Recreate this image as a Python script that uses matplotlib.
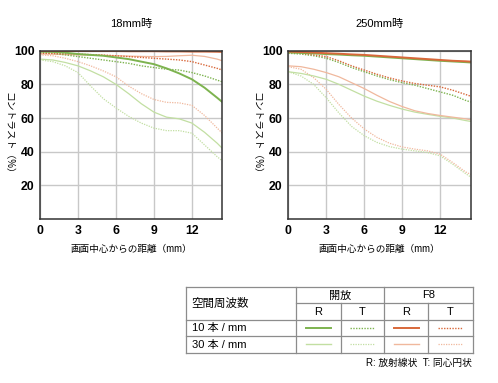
import matplotlib
matplotlib.use("Agg")
import matplotlib.pyplot as plt

plt.rcParams['font.family'] = ['Liberation Sans', 'Noto Sans CJK JP', 'DejaVu Sans']

# distance from image centre (mm)
x = [0, 1, 2, 3, 4, 5, 6, 7, 8, 9, 10, 11, 12, 13, 14, 14.4]

# 18mm
w18_open_10R = [99.5, 99.3, 98.8, 98, 97.5, 97, 96, 95, 93.5, 92, 89.5, 86.5, 83, 78, 72, 69.5]
w18_open_10T = [99, 98.5, 97.5, 96.5, 95.5, 94.5, 93.5, 92.5, 91, 90, 89, 88.5, 87, 85, 82.5, 81.5]
w18_open_30R = [95, 94.5, 93, 91, 88, 84.5, 80, 74.5, 68.5, 63.5, 60.5, 59.5, 57, 51.5, 45, 42]
w18_open_30T = [94.5, 93.5, 91, 87, 79, 71.5, 66, 61, 57, 54, 52.5, 52.5, 51, 44, 37, 34.5]
w18_f8_10R = [99.8, 99.8, 99.8, 99.8, 99.8, 99.8, 99.8, 99.7, 99.7, 99.7, 99.6, 99.6, 99.5, 99.5, 99.4, 99.3]
w18_f8_10T = [98.5, 98.4, 98.2, 98, 97.7, 97.4, 97, 96.5, 96, 95.5, 95, 94.5, 93.5, 91.5, 89.5, 88.5]
w18_f8_30R = [98, 97.9, 97.7, 97.5, 97.4, 97.2, 97, 96.8, 96.6, 96.5, 96.6, 97, 97.3, 96.6, 95, 94]
w18_f8_30T = [97.5, 97, 95.5, 93.5, 91, 88, 84.5, 79, 74.5, 71, 69.3, 69, 67.5, 61.5, 54, 51]

# 250mm
t250_open_10R = [99, 98.7, 98.4, 98, 97.7, 97.3, 97, 96.5, 96, 95.5, 95, 94.5, 94, 93.6, 93.2, 93]
t250_open_10T = [98.5, 98, 97, 95.5, 93, 90, 87.5, 85, 82.8, 81, 79.5, 77.5, 75.5, 73.5, 70.5, 69.5]
t250_open_30R = [87.5, 86.5, 85, 83, 80, 76.5, 73, 70, 67.5, 65.3, 63.5, 62.2, 61, 60, 58.5, 58]
t250_open_30T = [87.5, 85, 80, 72, 63, 55, 49.5, 45.5, 43, 41.5, 40.5, 39.5, 37.5, 32.5, 27, 25]
t250_f8_10R = [99.5, 99.2, 98.9, 98.5, 98.2, 97.8, 97.5, 97, 96.5, 96, 95.5, 95, 94.5, 94, 93.7, 93.5]
t250_f8_10T = [99, 98.5, 97.5, 96.5, 94, 91, 88.5, 86, 83.8, 82, 80.5, 79.5, 78.5, 76.5, 74, 73]
t250_f8_30R = [91, 90.5, 89, 87, 84.5, 81, 77.5, 73.5, 69.8, 66.8, 64.3, 62.7, 61.5, 60.5, 59.5, 59]
t250_f8_30T = [90.5, 89, 84, 77, 68, 60, 53.5, 48.5, 45, 42.8, 41.5, 40.5, 38.5, 33.5, 28, 26.5]

titles = ['18mm時', '250mm時']
xticks = [0, 3, 6, 9, 12]
yticks = [20, 40, 60, 80, 100]

green = '#7db34f'
orange = '#d8683a'
lgreen = '#c2dfa2'
lorange = '#f0b89d'
dot = (0, (1, 1))

W, H = 498, 383
fig = plt.figure(figsize=(W / 100, H / 100), dpi=100)

def px_axes(x0, y0, x1, y1):
    return fig.add_axes([x0 / W, 1 - y1 / H, (x1 - x0) / W, (y1 - y0) / H])

panels = [
    (40, (w18_open_10R, w18_open_10T, w18_open_30R, w18_open_30T,
          w18_f8_10R, w18_f8_10T, w18_f8_30R, w18_f8_30T)),
    (288.3, (t250_open_10R, t250_open_10T, t250_open_30R, t250_open_30T,
             t250_f8_10R, t250_f8_10T, t250_f8_30R, t250_f8_30T)),
]

for (left, series), title in zip(panels, titles):
    ax = px_axes(left, 50.7, left + 182.3, 219)
    o10R, o10T, o30R, o30T, f10R, f10T, f30R, f30T = series
    ax.plot(x, o30T, color=lgreen, lw=0.9, ls=dot)
    ax.plot(x, f30T, color=lorange, lw=0.9, ls=dot)
    ax.plot(x, o30R, color=lgreen, lw=0.9)
    ax.plot(x, f30R, color=lorange, lw=0.9)
    ax.plot(x, o10T, color=green, lw=1.0, ls=dot)
    ax.plot(x, f10T, color=orange, lw=1.0, ls=dot)
    ax.plot(x, o10R, color=green, lw=1.4)
    ax.plot(x, f10R, color=orange, lw=1.4)
    ax.set_xlim(0, 14.4)
    ax.set_ylim(0, 100)
    ax.set_xticks(xticks)
    ax.set_yticks(yticks)
    ax.grid(True, color='#c8c8c8', lw=1.0)
    ax.set_axisbelow(True)
    ax.tick_params(length=0, labelsize=8.8, pad=4)
    for lab in ax.get_xticklabels() + ax.get_yticklabels():
        lab.set_fontweight('bold')
    for s in ax.spines.values():
        s.set_color('#333333')
        s.set_linewidth(1.1)
    cx = left + 91
    fig.text(cx / W, 1 - 24 / H, title, ha='center', va='center', fontsize=8)
    fig.text(cx / W, 1 - 249 / H, '画面中心からの距離（mm）', ha='center', va='center', fontsize=6.9)
    fig.text((left - 32) / W, 1 - 135 / H, 'コントラスト（%）', ha='center', va='center',
             fontsize=7, rotation=-90)

# table / legend
tax = fig.add_axes([0, 0, 1, 1])
tax.set_xlim(0, W)
tax.set_ylim(H, 0)
tax.axis('off')
tax.patch.set_alpha(0)

cols = [186, 295.7, 340.7, 384, 428.3, 472.7]
rows = [286.7, 303.3, 320, 336, 352.7]
lc = '#8c8c8c'
for yy in [rows[0], rows[2], rows[3], rows[4]]:
    tax.plot([cols[0], cols[-1]], [yy, yy], color=lc, lw=0.9)
tax.plot([cols[1], cols[-1]], [rows[1], rows[1]], color=lc, lw=0.9)
for xx in [cols[0], cols[1], cols[3], cols[5]]:
    tax.plot([xx, xx], [rows[0], rows[-1]], color=lc, lw=0.9)
for xx in [cols[2], cols[4]]:
    tax.plot([xx, xx], [rows[1], rows[-1]], color=lc, lw=0.9)

fs = 8
tax.text(191.5, (rows[0] + rows[2]) / 2, '空間周波数', ha='left', va='center', fontsize=fs + 0.3)
tax.text((cols[1] + cols[3]) / 2, (rows[0] + rows[1]) / 2 + 0.5, '開放', ha='center', va='center', fontsize=fs)
tax.text((cols[3] + cols[5]) / 2, (rows[0] + rows[1]) / 2 + 0.5, 'F8', ha='center', va='center', fontsize=fs)
for i, t in enumerate(['R', 'T', 'R', 'T']):
    tax.text((cols[i + 1] + cols[i + 2]) / 2, (rows[1] + rows[2]) / 2 + 0.5, t,
             ha='center', va='center', fontsize=fs)
tax.text(191.5, (rows[2] + rows[3]) / 2 + 0.3, '10 本 / mm', ha='left', va='center', fontsize=fs)
tax.text(191.5, (rows[3] + rows[4]) / 2 + 0.3, '30 本 / mm', ha='left', va='center', fontsize=fs)

samples = [
    [(green, '-', 1.4), (green, dot, 1.0), (orange, '-', 1.4), (orange, dot, 1.0)],
    [(lgreen, '-', 1.0), (lgreen, dot, 0.9), (lorange, '-', 1.0), (lorange, dot, 0.9)],
]
for r, row in enumerate(samples):
    yy = (rows[r + 2] + rows[r + 3]) / 2
    for c, (col, ls, lw) in enumerate(row):
        cx = (cols[c + 1] + cols[c + 2]) / 2
        tax.plot([cx - 12.5, cx + 12.5], [yy, yy], color=col, ls=ls, lw=lw)

tax.text(471.5, 363, 'R: 放射線状  T: 同心円状', ha='right', va='center', fontsize=7)

fig.savefig('out.png', dpi=100)
